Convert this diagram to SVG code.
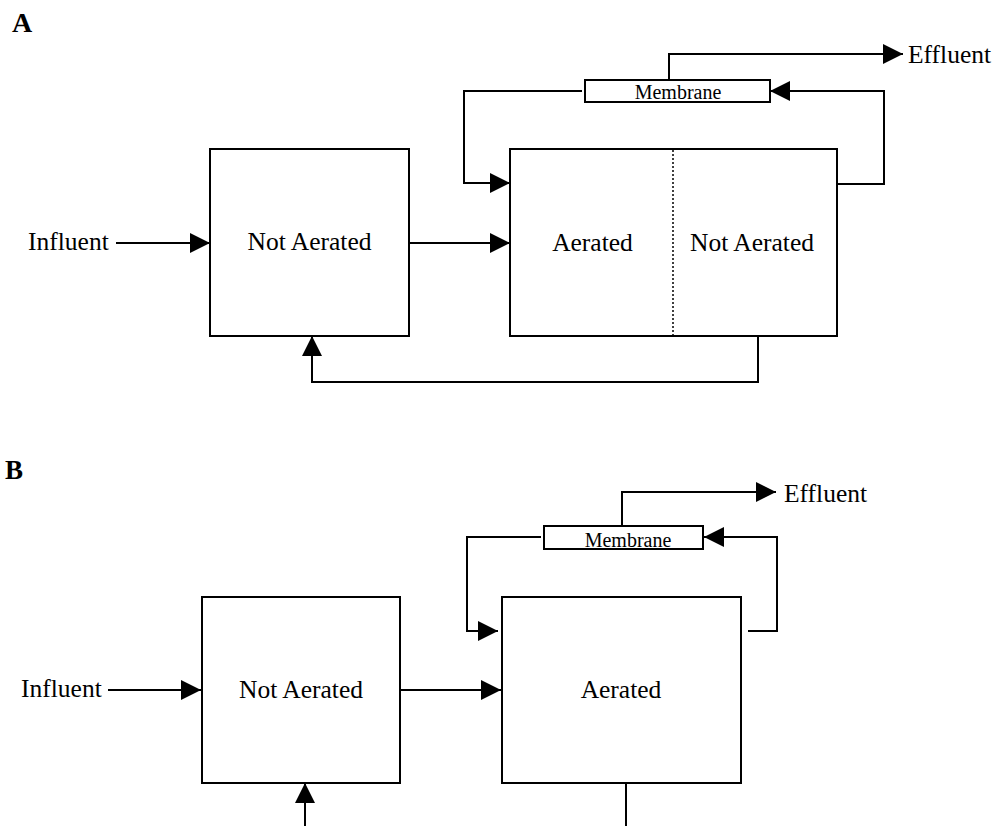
<svg xmlns="http://www.w3.org/2000/svg" width="1008" height="826" viewBox="0 0 1008 826">
<style>
.box{fill:#fff;stroke:#000;stroke-width:2}
.ln{fill:none;stroke:#000;stroke-width:2}
.arr{fill:none;stroke:#000;stroke-width:2;marker-end:url(#ah)}
.t{font-family:"Liberation Serif","Times New Roman",serif;font-size:25.5px;fill:#000}
.m{font-family:"Liberation Serif","Times New Roman",serif;font-size:20px;fill:#000}
.lab{font-family:"Liberation Serif","Times New Roman",serif;font-weight:bold;fill:#000}
</style>
<defs>
<marker id="ah" markerUnits="userSpaceOnUse" markerWidth="20" markerHeight="20" refX="20" refY="10" orient="auto" viewBox="0 0 20 20">
<path d="M0,0 L20,10 L0,20 z" fill="#000"/>
</marker>
</defs>
<rect width="1008" height="826" fill="#fff"/>
<text class="lab" x="12" y="32" font-size="28">A</text>
<text class="lab" x="5" y="479" font-size="27">B</text>

<g id="connectors">
<path class="arr" d="M116,243 H210"/>
<path class="arr" d="M409,243 H510"/>
<path class="arr" d="M582,91 H464 V183 H510"/>
<path class="arr" d="M837,184 H884 V91 H770"/>
<path class="arr" d="M669,80 V54 H903"/>
<path class="arr" d="M758,336 V382 H312 V336"/>

<path class="arr" d="M108,690 H201"/>
<path class="arr" d="M400,690 H501"/>
<path class="arr" d="M541,537 H467 V631 H498"/>
<path class="arr" d="M748,631 H777 V537 H704"/>
<path class="arr" d="M622,526 V492 H776"/>
<path class="arr" d="M305,826 V783"/>
<path class="ln" d="M626,783 V826"/>
</g>

<g id="A-influent"><text class="t" x="28" y="250">Influent</text></g>
<g id="A-tank1">
<rect class="box" x="210" y="149" width="199" height="187"/>
<text class="t" x="309.5" y="250" text-anchor="middle">Not Aerated</text>
</g>
<g id="A-tank2">
<rect class="box" x="510" y="149" width="327" height="187"/>
<line x1="673" y1="150" x2="673" y2="335" stroke="#000" stroke-width="1.5" stroke-dasharray="2,2"/>
<text class="t" x="592.5" y="251" text-anchor="middle">Aerated</text>
<text class="t" x="752" y="251" text-anchor="middle">Not Aerated</text>
</g>
<g id="A-membrane">
<rect class="box" x="585" y="80" width="185" height="22"/>
<text class="m" x="678" y="99" text-anchor="middle">Membrane</text>
</g>
<g id="A-effluent"><text class="t" x="908" y="63">Effluent</text></g>

<g id="B-influent"><text class="t" x="21" y="697">Influent</text></g>
<g id="B-tank1">
<rect class="box" x="202" y="597" width="198" height="186"/>
<text class="t" x="301" y="698" text-anchor="middle">Not Aerated</text>
</g>
<g id="B-tank2">
<rect class="box" x="502" y="597" width="239" height="186"/>
<text class="t" x="621" y="698" text-anchor="middle">Aerated</text>
</g>
<g id="B-membrane">
<rect class="box" x="544" y="526" width="159" height="23"/>
<text class="m" x="628" y="547" text-anchor="middle">Membrane</text>
</g>
<g id="B-effluent"><text class="t" x="784" y="502">Effluent</text></g>
</svg>
